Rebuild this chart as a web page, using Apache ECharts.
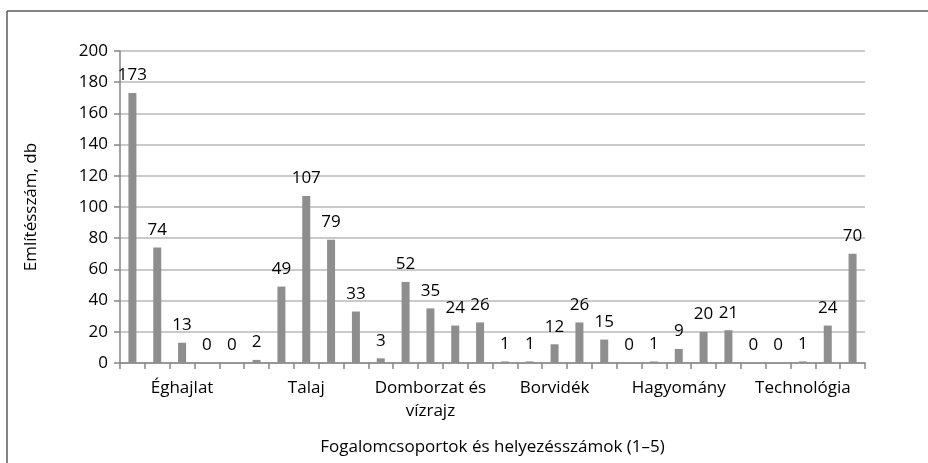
<!DOCTYPE html>
<html>
<head>
<meta charset="utf-8">
<script src="https://cdn.jsdelivr.net/npm/echarts@6/dist/echarts.min.js"></script>
<style>
html,body{margin:0;padding:0;background:#fff;}
#chart{width:928px;height:463px;}
</style>
</head>
<body>
<div id="chart"></div>
<script>
// Group names (x-axis labels) and ranks
const groups = ['Éghajlat', 'Talaj', 'Domborzat és\nvízrajz', 'Borvidék', 'Hagyomány', 'Technológia'];
const ranks = ['1', '2', '3', '4', '5'];

// Mention counts per group, ranks 1–5
const eghajlat = [173, 74, 13, 0, 0];
const talaj = [2, 49, 107, 79, 33];
const domborzat = [3, 52, 35, 24, 26];
const borvidek = [1, 1, 12, 26, 15];
const hagyomany = [0, 1, 9, 20, 21];
const technologia = [0, 0, 1, 24, 70];

// Y axis ticks
const yMin = 0, yMax = 200, yStep = 20;

const seriesByGroup = [eghajlat, talaj, domborzat, borvidek, hagyomany, technologia];
const categories = [];
const values = [];
groups.forEach((g, gi) => {
  ranks.forEach((r, ri) => {
    categories.push(g + '|' + r);
    values.push(seriesByGroup[gi][ri]);
  });
});

const FONT = 'Open Sans';
const FS = 17;
const chart = echarts.init(document.getElementById('chart'));
chart.setOption({
  backgroundColor: '#fff',
  animation: false,
  textStyle: { fontFamily: FONT },
  grid: { left: 120, right: 63, top: 51, bottom: 100, containLabel: false },
  graphic: [
    { type: 'line', shape: { x1: 7, y1: 11, x2: 928, y2: 11 }, style: { stroke: '#5a5a5a', lineWidth: 1.5 } },
    { type: 'line', shape: { x1: 7, y1: 11, x2: 7, y2: 463 }, style: { stroke: '#5a5a5a', lineWidth: 1.5 } }
  ],
  xAxis: {
    type: 'category',
    data: categories,
    name: 'Fogalomcsoportok és helyezésszámok (1–5)',
    nameLocation: 'middle',
    nameGap: 76,
    nameTextStyle: { fontFamily: FONT, fontSize: FS, color: '#000' },
    axisLine: { lineStyle: { color: '#868686', width: 1.5 } },
    axisTick: { show: true, interval: 0, alignWithLabel: false, length: 6, lineStyle: { color: '#868686', width: 1.5 } },
    axisLabel: {
      interval: 0,
      margin: 14,
      fontFamily: FONT,
      fontSize: FS,
      color: '#000',
      lineHeight: 23,
      formatter: (v, i) => (i % 5 === 2 ? v.split('|')[0] : '')
    },
    splitLine: { show: false }
  },
  yAxis: {
    type: 'value',
    min: yMin,
    max: yMax,
    interval: yStep,
    name: 'Említésszám, db',
    nameLocation: 'middle',
    nameGap: 80,
    nameRotate: 90,
    nameTextStyle: { fontFamily: FONT, fontSize: FS, color: '#000' },
    axisLine: { show: true, lineStyle: { color: '#868686', width: 1.5 } },
    axisTick: { show: true, length: 6, lineStyle: { color: '#868686', width: 1.5 } },
    axisLabel: { fontFamily: FONT, fontSize: FS, color: '#000', margin: 12 },
    splitLine: { lineStyle: { color: '#b9b9b9', width: 1.5 } }
  },
  series: [{
    type: 'bar',
    data: values,
    barWidth: 8,
    itemStyle: { color: '#8e8e8e' },
    label: {
      show: true,
      position: 'top',
      distance: 9,
      fontFamily: FONT,
      fontSize: FS,
      color: '#000'
    }
  }]
});
</script>
</body>
</html>
